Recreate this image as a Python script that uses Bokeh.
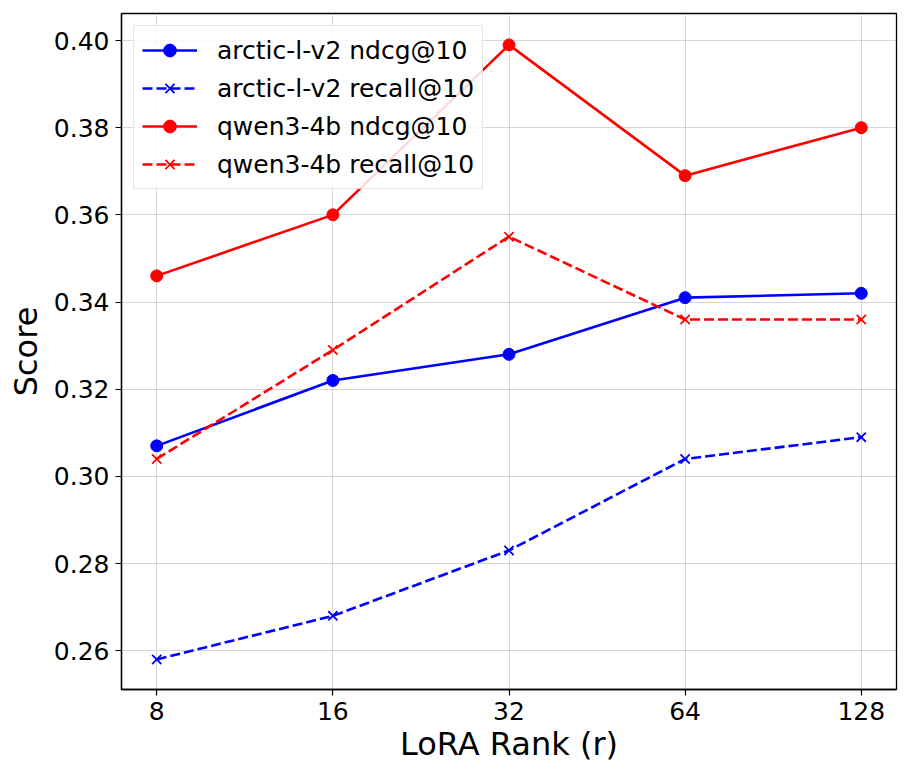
from bokeh.plotting import figure
from bokeh.models import FixedTicker, NumeralTickFormatter, Range1d, Legend, LegendItem
from bokeh.embed import file_html
from bokeh.resources import INLINE

ranks = ["8", "16", "32", "64", "128"]
arctic_ndcg = [0.307, 0.322, 0.328, 0.341, 0.342]
arctic_recall = [0.258, 0.268, 0.283, 0.304, 0.309]
qwen_ndcg = [0.346, 0.360, 0.399, 0.369, 0.380]
qwen_recall = [0.304, 0.329, 0.355, 0.336, 0.336]
y_ticks = [0.26, 0.28, 0.30, 0.32, 0.34, 0.36, 0.38, 0.40]

xs = list(range(len(ranks)))
FONT = "DejaVu Sans"

p = figure(width=898, height=765, output_backend="svg", toolbar_location=None,
           x_range=Range1d(-0.2, 4.2), y_range=Range1d(0.2511, 0.4062),
           min_border_left=121, min_border_right=2, min_border_top=13, min_border_bottom=67)

series = [
    ("arctic-l-v2 ndcg@10", arctic_ndcg, "#0000ff", "solid", "circle"),
    ("arctic-l-v2 recall@10", arctic_recall, "#0000ff", "dashed", "x"),
    ("qwen3-4b ndcg@10", qwen_ndcg, "#ff0000", "solid", "circle"),
    ("qwen3-4b recall@10", qwen_recall, "#ff0000", "dashed", "x"),
]
items = []
for name, ys, col, dash, mk in series:
    ln = p.line(xs, ys, line_color=col, line_width=2.6, line_dash=("10 4" if dash == "dashed" else "solid"))
    if mk == "circle":
        sc = p.scatter(xs, ys, marker="circle", size=12, fill_color=col, line_color=col)
    else:
        sc = p.scatter(xs, ys, marker="x", size=13, line_color=col, line_width=1.8)
    items.append(LegendItem(label=name, renderers=[ln, sc]))

legend = Legend(items=items, location="top_left")
legend.label_text_font = FONT
legend.label_text_font_size = "25px"
legend.label_text_color = "#000000"
legend.glyph_width = 55
legend.glyph_height = 32
legend.spacing = 6
legend.padding = 8
legend.margin = 12
legend.label_standoff = 20
legend.border_line_color = "#cccccc"
legend.border_line_width = 1.2
legend.background_fill_alpha = 0.85
p.add_layout(legend)

p.xaxis.ticker = FixedTicker(ticks=xs)
p.xaxis.major_label_overrides = {i: r for i, r in enumerate(ranks)}
p.yaxis.ticker = FixedTicker(ticks=y_ticks)
p.yaxis.formatter = NumeralTickFormatter(format="0.00")

p.xaxis.axis_label = "LoRA Rank (r)"
p.yaxis.axis_label = "Score"
for ax in (p.xaxis, p.yaxis):
    ax.axis_label_text_font = FONT
    ax.axis_label_text_font_size = "32px"
    ax.axis_label_text_font_style = "normal"
    ax.axis_label_text_color = "#000000"
    ax.major_label_text_font = FONT
    ax.major_label_text_font_size = "25px"
    ax.major_label_text_color = "#000000"
    ax.minor_tick_line_color = None
    ax.major_tick_out = 6
    ax.major_tick_in = 0
    ax.major_tick_line_color = "#000000"
    ax.major_tick_line_width = 1.2
    ax.axis_line_color = "#000000"
    ax.axis_line_width = 1.3
    ax.major_label_standoff = 6
p.xaxis.axis_label_standoff = 2
p.yaxis.axis_label_standoff = 6

p.grid.grid_line_color = "#b0b0b0"
p.grid.grid_line_alpha = 0.5
p.grid.grid_line_width = 1
p.outline_line_color = "#000000"
p.outline_line_width = 1.3
p.outline_line_alpha = 1.0

open("out.html", "w").write(file_html(p, INLINE))
